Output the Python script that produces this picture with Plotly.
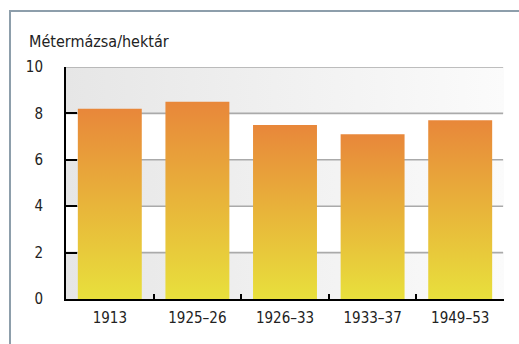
import plotly.graph_objects as go

# Wheat yield, quintals per hectare
categories = ["1913", "1925–26", "1926–33", "1933–37", "1949–53"]
values = [8.2, 8.5, 7.5, 7.1, 7.7]
y_ticks = [0, 2, 4, 6, 8, 10]
unit_label = "Métermázsa/hektár"

FONT = "DejaVu Sans Condensed, DejaVu Sans, sans-serif"
TEXT = "#222222"
FS = 15
BAR_W = 0.73
X0, X1 = -0.5, len(categories) - 0.5

W, H = 519, 344
L, R, T, B = 66, 15, 67, 45
pw, ph = W - L - R, H - T - B


def tfont(size=FS):
    return dict(family=FONT, size=size, color=TEXT)


fig = go.Figure()

# alternating shaded bands (0-2, 4-6, 8-10) with a left-to-right fade
for lo in y_ticks[:-1:2]:
    hi = lo + 2
    fig.add_trace(go.Scatter(
        x=[X0, X1, X1, X0, X0], y=[lo, lo, hi, hi, lo],
        mode="lines", line=dict(width=0), fill="toself",
        fillgradient=dict(type="horizontal",
                          colorscale=[[0, "#e6e6e6"], [1, "#fbfbfb"]]),
        hoverinfo="skip", showlegend=False,
    ))

# horizontal grid lines
gx, gy = [], []
for t in y_ticks[1:]:
    gx += [X0, X1 - 0.01, None]
    gy += [t, t, None]
fig.add_trace(go.Scatter(x=gx, y=gy, mode="lines",
                         line=dict(color="#aaaaaa", width=1.6),
                         hoverinfo="skip", showlegend=False))

# bars with a vertical orange-to-yellow gradient
for i, v in enumerate(values):
    a, b = i - BAR_W / 2, i + BAR_W / 2
    fig.add_trace(go.Scatter(
        x=[a, b, b, a, a], y=[0, 0, v, v, 0],
        mode="lines", line=dict(width=0), fill="toself",
        fillgradient=dict(type="vertical",
                          colorscale=[[0, "#e8e03c"], [0.5, "#e8b43a"], [1, "#e8873a"]]),
        name=categories[i], hovertemplate="%{text}: " + str(v) + "<extra></extra>",
        text=[categories[i]] * 5, showlegend=False,
    ))

fig.update_layout(
    width=W, height=H,
    margin=dict(l=L, r=R, t=T, b=B),
    paper_bgcolor="white", plot_bgcolor="white",
    font=tfont(),
    xaxis=dict(
        range=[X0, X1], showgrid=False, zeroline=False,
        tickvals=[i + 0.5 for i in range(len(categories))],
        ticktext=[""] * len(categories),
        ticks="inside", ticklen=5, tickwidth=2, tickcolor="black",
        showline=True, linecolor="black", linewidth=2,
        layer="above traces", fixedrange=True,
    ),
    xaxis2=dict(
        range=[X0, X1], overlaying="x", side="bottom",
        tickvals=list(range(len(categories))), ticktext=categories,
        showgrid=False, zeroline=False, showline=False, ticks="",
        ticklabelstandoff=8,
        tickfont=tfont(), fixedrange=True,
    ),
    yaxis=dict(
        range=[0, 10], tickvals=y_ticks, showgrid=False, zeroline=False,
        ticks="inside", ticklen=11, tickwidth=2, tickcolor="black",
        showline=True, linecolor="black", linewidth=2,
        ticklabelstandoff=18, tickfont=tfont(),
        layer="above traces", fixedrange=True,
    ),
    annotations=[dict(
        text=unit_label, xref="paper", yref="paper",
        x=(27 - L) / pw, y=(H - B - 42) / ph, xanchor="left", yanchor="middle",
        showarrow=False, font=tfont(16),
    )],
    shapes=[
        # outer frame (top and left edges visible)
        dict(type="rect", xref="paper", yref="paper",
             x0=(10 - L) / pw, x1=2, y0=-1, y1=(H - B - 11) / ph,
             line=dict(color="#8d9eab", width=2), layer="below"),
    ],
)

# invisible trace that activates the label axis
fig.add_trace(go.Scatter(x=[0], y=[0], xaxis="x2", mode="markers",
                         marker=dict(opacity=0), hoverinfo="skip", showlegend=False))

fig.write_html("out.html")
